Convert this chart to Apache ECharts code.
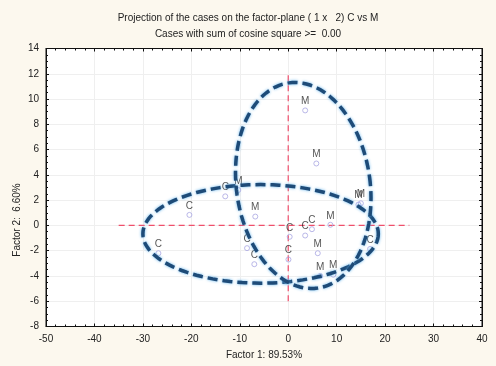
<!DOCTYPE html>
<html>
<head>
<meta charset="utf-8">
<script src="https://cdn.jsdelivr.net/npm/echarts@6/dist/echarts.min.js"></script>
<style>
html,body{margin:0;padding:0;background:#fcf8ee;}
#chart{width:496px;height:366px;}
</style>
</head>
<body>
<div id="chart"></div>
<script>
// ---- data ----
const titleText = 'Projection of the cases on the factor-plane ( 1 x   2) C vs M';
const subtitleText = 'Cases with sum of cosine square >=  0.00';
const xAxisName = 'Factor 1: 89.53%';
const yAxisName = 'Factor 2:  6.60%';

const xMin = -50, xMax = 40, xStep = 10;
const yMin = -8, yMax = 14, yStep = 2;

// C cases
const cX = [-26.8, -20.4, -13.0, -8.5, -7.0, 0.3, 0.05, 3.5, 4.9, 16.9];
const cY = [-2.2, 0.83, 2.3, -1.8, -3.07, -0.9, -2.7, -0.8, -0.3, -1.86];
// M cases
const mX = [3.5, 5.8, -10.3, -6.8, 8.7, 6.1, 6.6, 9.3, 14.5, 15.0];
const mY = [9.1, 4.9, 2.8, 0.7, 0.05, -2.2, -4.0, -3.9, 1.65, 1.75];

// confidence ellipses: centre, semi-axes (data units), tilt (deg)
const ellCX = [-5.7, 3.1];
const ellCY = [-0.67, 3.16];
const ellRX = [24.3, 13.8];
const ellRY = [3.9, 8.2];
const ellTilt = [0, -8];

// red reference cross
const crossHX = [-35, 25];
const crossHY = [0, 0];
const crossVX = [0, 0];
const crossVY = [-6, 12];

// ---- build ----
const cData = cX.map((x, i) => [x, cY[i]]);
const mData = mX.map((x, i) => [x, mY[i]]);
const ellData = ellCX.map((x, i) => [x, ellCY[i], ellRX[i], ellRY[i], ellTilt[i]]);
const hLine = crossHX.map((x, i) => [x, crossHY[i]]);
const vLine = crossVX.map((x, i) => [x, crossVY[i]]);

const font = 'Liberation Sans, Arial, sans-serif';

const pointSeries = (name, data, label) => ({
  name, type: 'scatter', data, z: 3,
  symbol: 'circle', symbolSize: 5,
  itemStyle: { color: 'rgba(255,255,255,0)', borderColor: '#a9a6e2', borderWidth: 1 },
  label: { show: true, position: 'top', distance: 1, formatter: label,
           color: '#2a2a2a', fontSize: 10, fontFamily: font },
  emphasis: { disabled: true }
});

const chart = echarts.init(document.getElementById('chart'));
chart.setOption({
  animation: false,
  backgroundColor: '#fcf8ee',
  textStyle: { fontFamily: font },
  title: [
    { text: titleText, left: 'center', top: 8,
      textStyle: { fontSize: 10, fontWeight: 'normal', color: '#222', fontFamily: font } },
    { text: subtitleText, left: 'center', top: 24,
      textStyle: { fontSize: 10, fontWeight: 'normal', color: '#222', fontFamily: font } }
  ],
  grid: { left: 46, right: 14, top: 48.5, bottom: 39.5, show: true,
          backgroundColor: '#ffffff', borderColor: '#111', borderWidth: 1 },
  xAxis: [
    { type: 'value', min: xMin, max: xMax, interval: xStep, position: 'bottom',
      name: xAxisName, nameLocation: 'middle', nameGap: 24,
      nameTextStyle: { fontSize: 10, color: '#222', fontFamily: font },
      axisLine: { show: true, onZero: false, lineStyle: { color: '#111' } },
      axisTick: { show: true, inside: true, length: 3, lineStyle: { color: '#111' } },
      minorTick: { show: true, splitNumber: 5, length: 2, lineStyle: { color: '#111' } },
      axisLabel: { fontSize: 10, color: '#222', margin: 8, fontFamily: font },
      splitLine: { show: true, lineStyle: { color: '#efefef', width: 1 } } },
    { type: 'value', min: xMin, max: xMax, interval: xStep, position: 'top',
      axisLine: { show: true, onZero: false, lineStyle: { color: '#111' } },
      axisTick: { show: true, inside: true, length: 3, lineStyle: { color: '#111' } },
      minorTick: { show: true, splitNumber: 5, length: 2, lineStyle: { color: '#111' } },
      axisLabel: { show: false }, splitLine: { show: false } }
  ],
  yAxis: [
    { type: 'value', min: yMin, max: yMax, interval: yStep, position: 'left',
      axisLine: { show: true, onZero: false, lineStyle: { color: '#111' } },
      axisTick: { show: true, inside: true, length: 3, lineStyle: { color: '#111' } },
      minorTick: { show: true, splitNumber: 4, length: 2, lineStyle: { color: '#111' } },
      axisLabel: { fontSize: 10, color: '#222', margin: 7, fontFamily: font },
      splitLine: { show: true, lineStyle: { color: '#efefef', width: 1 } } },
    { type: 'value', min: yMin, max: yMax, interval: yStep, position: 'right',
      axisLine: { show: true, onZero: false, lineStyle: { color: '#111' } },
      axisTick: { show: true, inside: true, length: 3, lineStyle: { color: '#111' } },
      minorTick: { show: true, splitNumber: 4, length: 2, lineStyle: { color: '#111' } },
      axisLabel: { show: false }, splitLine: { show: false } }
  ],
  graphic: [
    { type: 'text', x: 17, y: 220, rotation: Math.PI / 2,
      style: { text: yAxisName, fill: '#222', font: '10px ' + font,
               textAlign: 'center', textVerticalAlign: 'middle' } }
  ],
  series: [
    { type: 'line', data: hLine, symbol: 'none', z: 2, silent: true,
      lineStyle: { color: '#f0506c', width: 1.2, type: [6, 4] } },
    { type: 'line', data: vLine, symbol: 'none', z: 2, silent: true,
      lineStyle: { color: '#f0506c', width: 1.2, type: [6, 4] } },
    pointSeries('C', cData, 'C'),
    pointSeries('M', mData, 'M'),
    { type: 'custom', data: ellData, z: 4, silent: true,
      renderItem: function (params, api) {
        const c = api.coord([api.value(0), api.value(1)]);
        const s = api.size([api.value(2), api.value(3)]);
        const phi = api.value(4) * Math.PI / 180;
        const pts = [];
        const n = 120;
        for (let k = 0; k < n; k++) {
          const t = 2 * Math.PI * k / n;
          const ex = s[0] * Math.cos(t), ey = s[1] * Math.sin(t);
          pts.push([c[0] + ex * Math.cos(phi) - ey * Math.sin(phi),
                    c[1] + ex * Math.sin(phi) + ey * Math.cos(phi)]);
        }
        return { type: 'polygon', shape: { points: pts },
          style: { fill: 'none', stroke: '#1e4b78', lineWidth: 3.5, lineDash: [10, 5],
                   shadowBlur: 3, shadowColor: 'rgba(90,175,235,0.95)' } };
      } }
  ]
});
</script>
</body>
</html>
